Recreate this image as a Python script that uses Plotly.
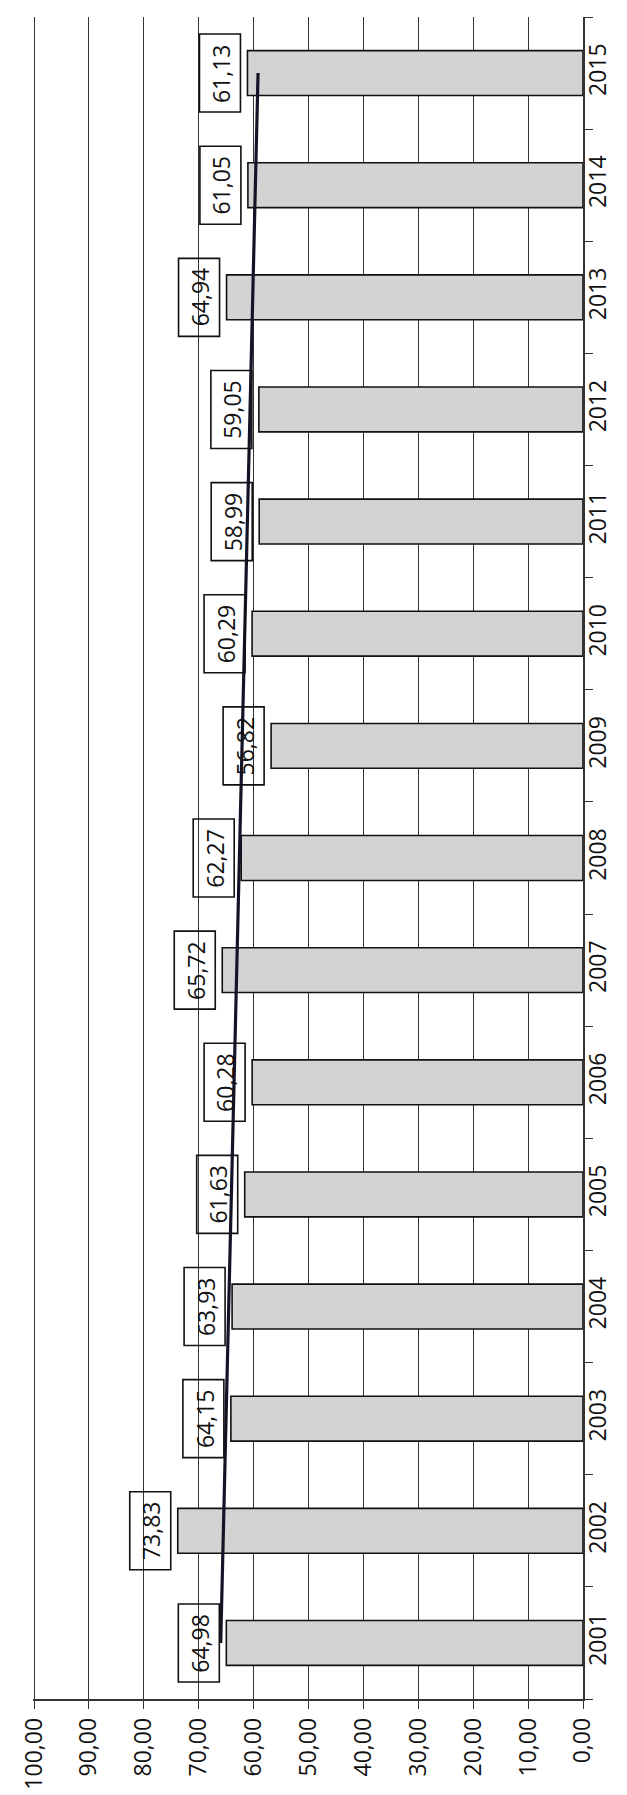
import plotly.graph_objects as go

years = ["2001", "2002", "2003", "2004", "2005", "2006", "2007", "2008",
         "2009", "2010", "2011", "2012", "2013", "2014", "2015"]
values = [64.98, 73.83, 64.15, 63.93, 61.63, 60.28, 65.72, 62.27,
          56.82, 60.29, 58.99, 59.05, 64.94, 61.05, 61.13]
value_labels = ["64,98", "73,83", "64,15", "63,93", "61,63", "60,28", "65,72", "62,27",
                "56,82", "60,29", "58,99", "59,05", "64,94", "61,05", "61,13"]
trend_years = ["2001", "2015"]
trend_values = [66.0, 59.2]
tick_vals = [0, 10, 20, 30, 40, 50, 60, 70, 80, 90, 100]
tick_text = ["0,00", "10,00", "20,00", "30,00", "40,00", "50,00",
             "60,00", "70,00", "80,00", "90,00", "100,00"]

FONT = "Open Sans"
GAP = 7      # px between bar end and label box
BOX_W = 41   # px, horizontal size of label box
BOX_H = 78   # px, vertical size of label box

fig = go.Figure()
fig.add_trace(go.Bar(
    x=values, y=years, orientation="h",
    marker=dict(color="#d3d3d3", line=dict(color="#111111", width=1.6)),
    width=0.4, hoverinfo="skip",
))
fig.add_trace(go.Scatter(
    x=trend_values, y=trend_years, mode="lines",
    line=dict(color="#141428", width=3.2), hoverinfo="skip",
))

for i, (v, lab) in enumerate(zip(values, value_labels)):
    fig.add_shape(
        type="rect", xref="x", yref="y",
        xsizemode="pixel", xanchor=v, x0=-GAP - BOX_W, x1=-GAP,
        ysizemode="pixel", yanchor=i, y0=-BOX_H / 2, y1=BOX_H / 2,
        line=dict(color="#111111", width=1.6), fillcolor="rgba(0,0,0,0)",
        layer="above",
    )
    fig.add_annotation(
        x=v, y=i, xref="x", yref="y", text=lab, showarrow=False,
        textangle=-90, xanchor="center", yanchor="middle",
        xshift=-GAP - BOX_W / 2 + 1,
        font=dict(family=FONT, size=23, color="#111111"),
    )

fig.update_layout(
    width=627, height=1795,
    margin=dict(l=22, r=52, t=9, b=104),
    paper_bgcolor="white", plot_bgcolor="white",
    showlegend=False,
    font=dict(family=FONT, color="#111111"),
)
fig.update_xaxes(
    range=[100.2, 0], tickvals=tick_vals, ticktext=tick_text,
    tickangle=-90, tickfont=dict(size=23, family=FONT),
    showgrid=True, gridcolor="#333333", gridwidth=1,
    showline=True, linecolor="#333333", linewidth=1.5,
    ticks="outside", ticklen=8, tickcolor="#333333",
    zeroline=False, fixedrange=True,
)
fig.update_yaxes(
    type="category", categoryorder="array", categoryarray=years,
    side="right", tickangle=-90, tickfont=dict(size=23, family=FONT),
    showgrid=False, showline=True, linecolor="#333333", linewidth=1.5,
    ticks="outside", ticklen=8, tickcolor="#333333", tickson="boundaries",
    ticklabelstandoff=-6,
    range=[-0.5, 14.5], fixedrange=True,
)

fig.write_html("out.html")
